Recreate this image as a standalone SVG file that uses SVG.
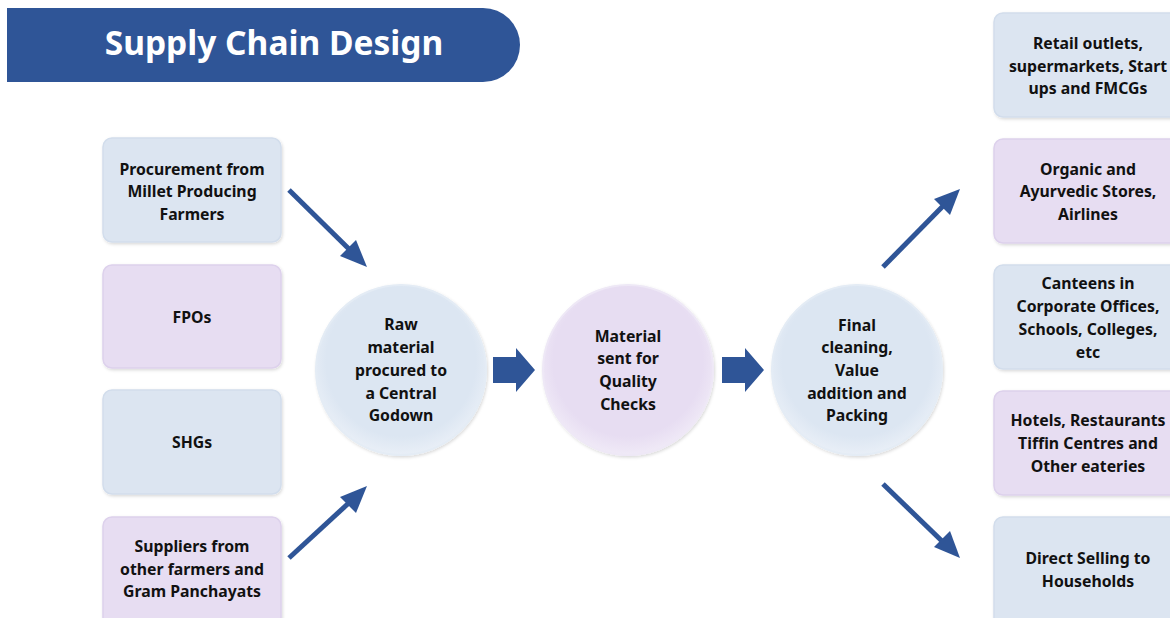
<svg xmlns="http://www.w3.org/2000/svg" width="1170" height="618" viewBox="0 0 1170 618">
<defs>
<style>
.t{font-family:"Noto Sans","Open Sans",sans-serif;font-weight:bold;font-size:15.8px;fill:#111;text-anchor:middle}
.blue{fill:#DCE5F1;stroke:#D2DDEC;stroke-width:1.5}
.purp{fill:#E7DDF2;stroke:#DDD1EC;stroke-width:1.5}
.arr{stroke:#2F5597;stroke-width:5;fill:none}
.ah{fill:#2F5597}
</style>
<radialGradient id="gb" cx="50%" cy="45%" r="55%">
<stop offset="0.8" stop-color="#DCE6F2"/><stop offset="1" stop-color="#E9EFF7"/>
</radialGradient>
<radialGradient id="gp" cx="50%" cy="45%" r="55%">
<stop offset="0.8" stop-color="#E7DDF2"/><stop offset="1" stop-color="#F0EAF7"/>
</radialGradient>
<filter id="sh" x="-10%" y="-10%" width="120%" height="120%">
<feDropShadow dx="1" dy="1.5" stdDeviation="1.5" flood-color="#000" flood-opacity="0.15"/>
</filter>
</defs>
<rect width="1170" height="618" fill="#fff"/>
<g id="title">
<path d="M7 8 H483 A37 37 0 0 1 483 82 H7 Z" fill="#2F5597"/>
<text x="274" y="55" font-family="Noto Sans,Open Sans,sans-serif" font-weight="bold" font-size="33.5" fill="#fff" text-anchor="middle">Supply Chain Design</text>
</g>
<g id="src1"><rect class="blue" x="103" y="138" width="178" height="104" rx="9" filter="url(#sh)"/>
<text class="t" x="192" y="175">Procurement from</text><text class="t" x="192" y="197">Millet Producing</text><text class="t" x="192" y="220">Farmers</text></g>
<g id="src2"><rect class="purp" x="103" y="265" width="178" height="103" rx="9" filter="url(#sh)"/>
<text class="t" x="192" y="323">FPOs</text></g>
<g id="src3"><rect class="blue" x="103" y="390" width="178" height="104" rx="9" filter="url(#sh)"/>
<text class="t" x="192" y="448">SHGs</text></g>
<g id="src4"><rect class="purp" x="103" y="517" width="178" height="110" rx="9" filter="url(#sh)"/>
<text class="t" x="192" y="552">Suppliers from</text><text class="t" x="192" y="575">other farmers and</text><text class="t" x="192" y="597">Gram Panchayats</text></g>

<g id="c1"><circle cx="401" cy="370" r="85" fill="url(#gb)" stroke="#E4ECF5" stroke-width="2" filter="url(#sh)"/>
<text class="t" x="401" y="330">Raw</text><text class="t" x="401" y="353">material</text><text class="t" x="401" y="376">procured to</text><text class="t" x="401" y="399">a Central</text><text class="t" x="401" y="421">Godown</text></g>
<g id="c2"><circle cx="628" cy="370" r="85" fill="url(#gp)" stroke="#EEE8F6" stroke-width="2" filter="url(#sh)"/>
<text class="t" x="628" y="342">Material</text><text class="t" x="628" y="364">sent for</text><text class="t" x="628" y="387">Quality</text><text class="t" x="628" y="410">Checks</text></g>
<g id="c3"><circle cx="857" cy="370" r="85" fill="url(#gb)" stroke="#E4ECF5" stroke-width="2" filter="url(#sh)"/>
<text class="t" x="857" y="331">Final</text><text class="t" x="857" y="353">cleaning,</text><text class="t" x="857" y="376">Value</text><text class="t" x="857" y="399">addition and</text><text class="t" x="857" y="421">Packing</text></g>

<g id="dst1"><rect class="blue" x="994" y="13" width="185" height="104" rx="9" filter="url(#sh)"/>
<text class="t" x="1088" y="49">Retail outlets,</text><text class="t" x="1088" y="72">supermarkets, Start</text><text class="t" x="1088" y="94">ups and FMCGs</text></g>
<g id="dst2"><rect class="purp" x="994" y="139" width="185" height="104" rx="9" filter="url(#sh)"/>
<text class="t" x="1088" y="175">Organic and</text><text class="t" x="1088" y="197">Ayurvedic Stores,</text><text class="t" x="1088" y="220">Airlines</text></g>
<g id="dst3"><rect class="blue" x="994" y="265" width="185" height="104" rx="9" filter="url(#sh)"/>
<text class="t" x="1088" y="289">Canteens in</text><text class="t" x="1088" y="312">Corporate Offices,</text><text class="t" x="1088" y="335">Schools, Colleges,</text><text class="t" x="1088" y="358">etc</text></g>
<g id="dst4"><rect class="purp" x="994" y="391" width="185" height="104" rx="9" filter="url(#sh)"/>
<text class="t" x="1088" y="426">Hotels, Restaurants</text><text class="t" x="1088" y="449">Tiffin Centres and</text><text class="t" x="1088" y="472">Other eateries</text></g>
<g id="dst5"><rect class="blue" x="994" y="517" width="185" height="110" rx="9" filter="url(#sh)"/>
<text class="t" x="1088" y="564">Direct Selling to</text><text class="t" x="1088" y="587">Households</text></g>

<g id="connectors">
<line class="arr" x1="289" y1="190" x2="352" y2="252"/>
<polygon class="ah" points="367,267 340,256 356,240"/>
<line class="arr" x1="289" y1="558" x2="352" y2="500"/>
<polygon class="ah" points="367,486 340,497 356,513"/>
<line class="arr" x1="883" y1="267" x2="945" y2="204"/>
<polygon class="ah" points="960,189 934,199 950,215"/>
<line class="arr" x1="883" y1="484" x2="945" y2="544"/>
<polygon class="ah" points="960,558 934,547 950,531"/>
<polygon class="ah" points="493,357 516,357 516,348 535,370 516,392 516,383 493,383"/>
<polygon class="ah" points="722,357 745,357 745,348 764,370 745,392 745,383 722,383"/>
</g>
</svg>
